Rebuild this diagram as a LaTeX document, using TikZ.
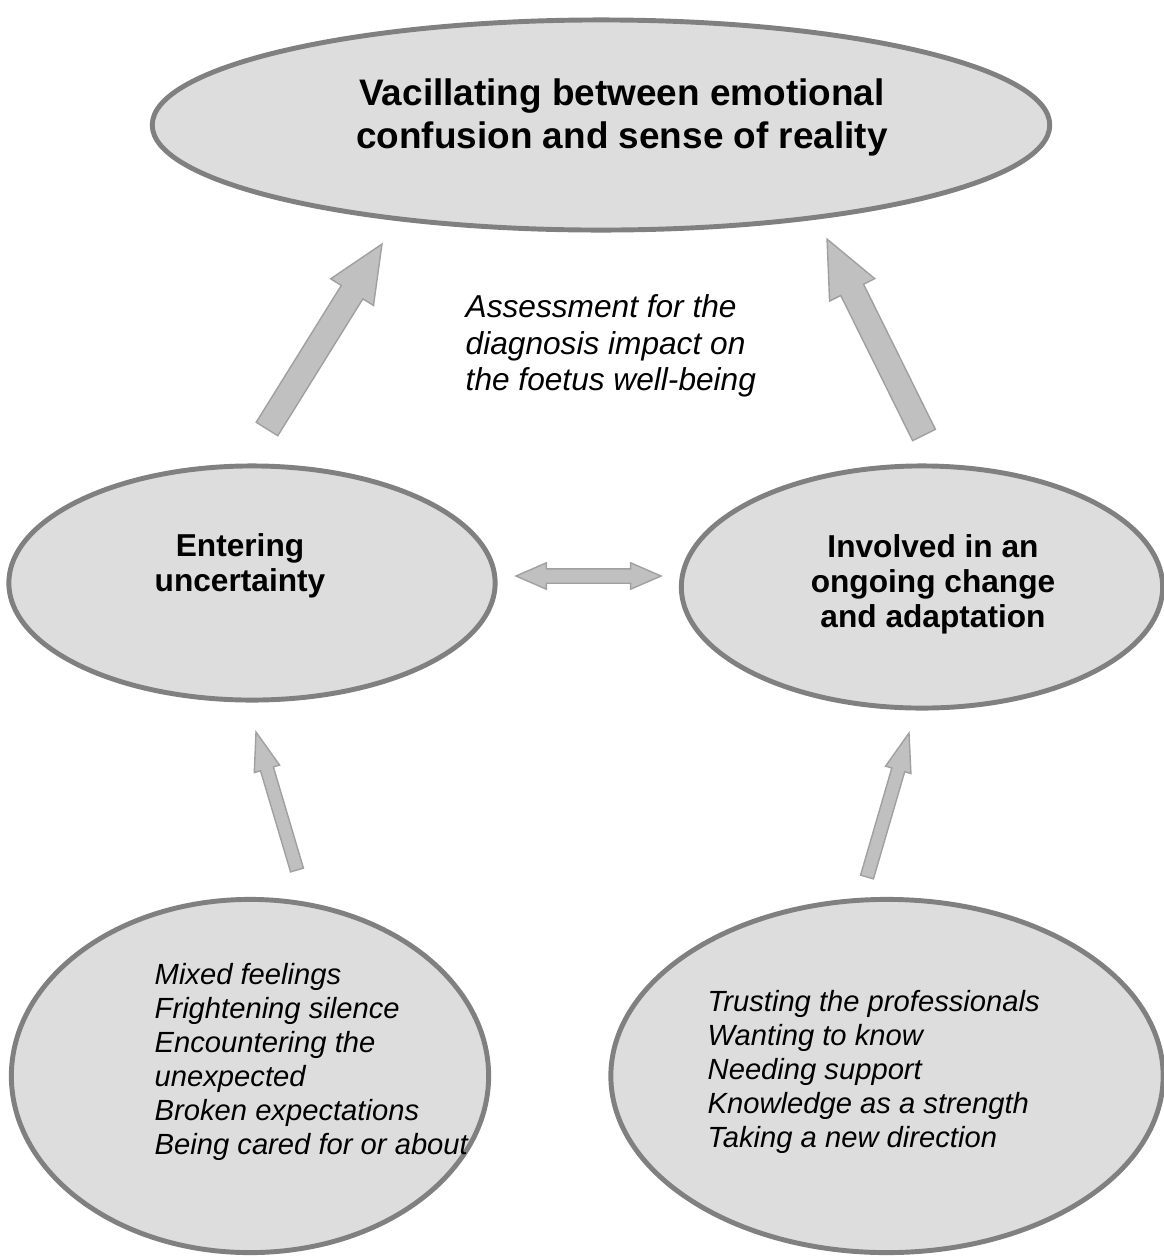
\documentclass[tikz,border=0pt]{standalone}
\usepackage{fontspec}
\setmainfont{Liberation Sans}
\usetikzlibrary{shapes.geometric,shapes.arrows,calc}

\definecolor{ovalfill}{HTML}{DDDDDD}
\definecolor{ovalline}{HTML}{808080}
\definecolor{arrowfill}{HTML}{C0C0C0}
\definecolor{arrowline}{HTML}{A0A0A0}

\tikzset{
	oval/.style={ellipse, draw=ovalline, fill=ovalfill, line width=1.4pt, inner sep=0pt},
	themetext/.style={font=\bfseries\fontsize{9}{9.96}\selectfont, align=center, inner sep=0pt},
	itemtext/.style={font=\itshape\fontsize{8.3}{9.62}\selectfont, align=left, inner sep=0pt, anchor=north west},
	bigarrow/.style={single arrow, draw=arrowline, fill=arrowfill, line width=0.4pt,
		inner xsep=0pt, inner ysep=0.12cm, minimum width=0pt, outer sep=0pt, anchor=tail,
		single arrow head extend=0.125cm, single arrow tip angle=48, single arrow head indent=0pt},
	smallarrow/.style={bigarrow, inner ysep=0.06cm, single arrow head extend=0.065cm, single arrow tip angle=38},
	botharrow/.style={double arrow, draw=arrowline, fill=arrowfill, line width=0.4pt,
		inner xsep=0pt, inner ysep=0.065cm, minimum width=0pt, outer sep=0pt,
		double arrow head extend=0.06cm, double arrow tip angle=47, double arrow head indent=0pt}
}

% block arrow node stretched from a tail coordinate to a tip coordinate
\newcommand{\blockarrow}[4]{%
	\path let \p1=(#3), \p2=(#4),
		\n1={atan2(\y2-\y1,\x2-\x1)}, \n2={veclen(\x2-\x1,\y2-\y1)}
		in node[#1, minimum height=\n2, rotate=\n1] (#2) at (#3) {};}

\begin{document}
\begin{tikzpicture}[x=0.01cm, y=-0.01cm]
	\useasboundingbox (0,0) rectangle (1164,1260);

	% ovals
	\node[oval, minimum width=8.97cm, minimum height=2.10cm] (vacillating) at (601,125) {};
	\node[oval, minimum width=4.86cm, minimum height=2.34cm] (entering) at (252,583) {};
	\node[oval, minimum width=4.81cm, minimum height=2.42cm] (involved) at (922,587) {};
	\node[oval, minimum width=4.77cm, minimum height=3.53cm] (feelings) at (250,1076) {};
	\node[oval, minimum width=5.52cm, minimum height=3.53cm] (trusting) at (887,1076) {};

	% texts
	\node[themetext, font=\bfseries\fontsize{10.5}{12.2}\selectfont] (vacillating-text) at (622,117)
		{Vacillating between emotional\\confusion and sense of reality};
	\node[themetext] (entering-text) at (240,566) {Entering\\uncertainty};
	\node[themetext] (involved-text) at (933,584) {Involved in an\\ongoing change\\and adaptation};
	\node[itemtext, font=\itshape\fontsize{9}{10.4}\selectfont] (assessment) at (465,294)
		{Assessment for the\\diagnosis impact on\\the foetus well-being};
	\node[itemtext] (feelings-text) at (154,963)
		{Mixed feelings\\Frightening silence\\Encountering the\\unexpected\\Broken expectations\\Being cared for or about};
	\node[itemtext] (trusting-text) at (707,990)
		{Trusting the professionals\\Wanting to know\\Needing support\\Knowledge as a strength\\Taking a new direction};

	% arrow ends
	\coordinate (ul-tail) at (267,429);
	\coordinate (ul-tip) at (382,244);
	\coordinate (ur-tail) at (924,435);
	\coordinate (ur-tip) at (827,239);
	\coordinate (ll-tail) at (297,870);
	\coordinate (ll-tip) at (256,732);
	\coordinate (lr-tail) at (867,877);
	\coordinate (lr-tip) at (909,733);
	\coordinate (mid-left) at (516,576);
	\coordinate (mid-right) at (661,576);

	% arrows
	\blockarrow{bigarrow}{ul-arrow}{ul-tail}{ul-tip}
	\blockarrow{bigarrow}{ur-arrow}{ur-tail}{ur-tip}
	\blockarrow{smallarrow}{ll-arrow}{ll-tail}{ll-tip}
	\blockarrow{smallarrow}{lr-arrow}{lr-tail}{lr-tip}
	\path let \p1=(mid-left), \p2=(mid-right), \n1={veclen(\x2-\x1,\y2-\y1)}
		in node[botharrow, minimum height=\n1] (mid-arrow) at ($(mid-left)!0.5!(mid-right)$) {};
\end{tikzpicture}
\end{document}
